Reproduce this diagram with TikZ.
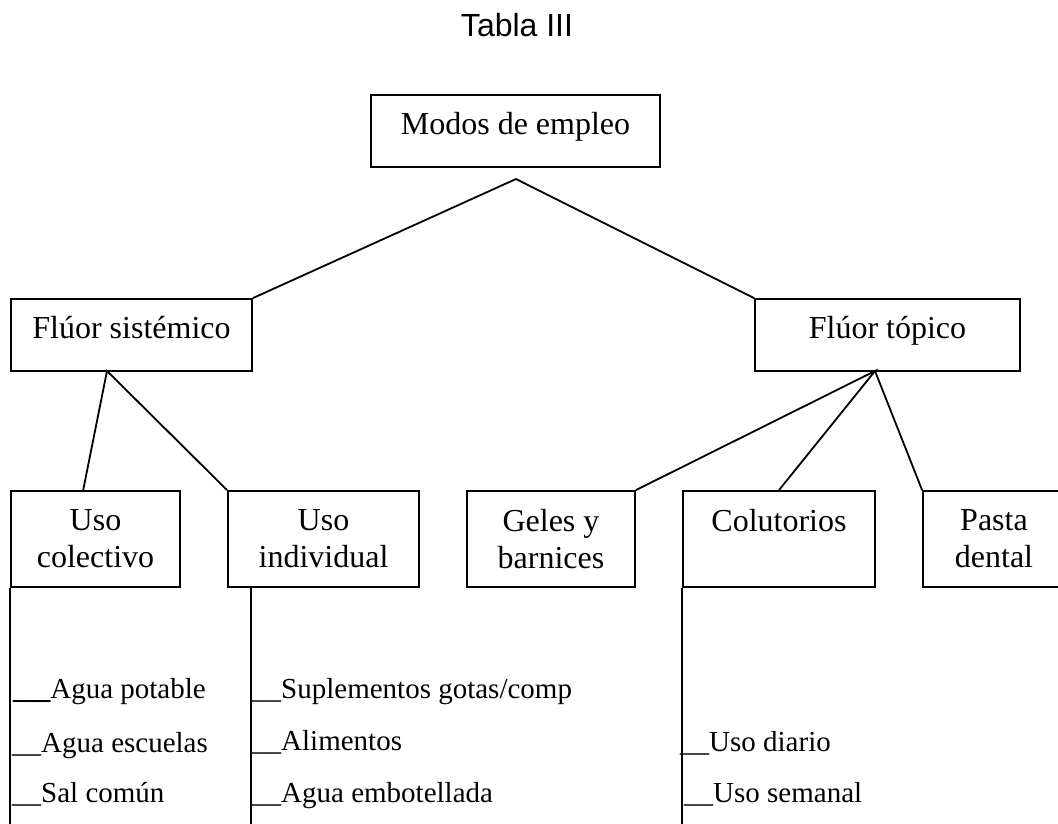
\documentclass[tikz,border=0pt]{standalone}
\usepackage{fontspec}
\setmainfont{Liberation Serif}
\newfontfamily\titlefont{Liberation Sans}
\begin{document}
\begin{tikzpicture}[x=1pt,y=-1pt,
  box/.style={draw,line width=1.8pt,inner sep=0pt,font=\fontsize{32}{37}\selectfont},
  onebox/.style={box,text height=22pt,text depth=16pt},
  twobox/.style={box,align=center},
  conn/.style={line width=1.8pt},
  item/.style={anchor=base west,inner sep=0pt,font=\fontsize{29}{34}\selectfont}]
\useasboundingbox (0,0) rectangle (1058,823);
% title
\node[anchor=base,inner sep=0pt,font=\titlefont\fontsize{32}{38}\selectfont] (title) at (517,36) {Tabla III};
% top level
\node[onebox,minimum width=289pt,minimum height=72pt] (modos) at (515.5,131) {Modos de empleo};
\node[onebox,minimum width=241pt,minimum height=72pt] (fs) at (131.5,335) {Flúor sistémico};
\node[onebox,minimum width=265pt,minimum height=72pt] (ft) at (887.5,335) {Flúor tópico};
% lower boxes
\node[twobox,minimum width=169pt,minimum height=96pt] (uc) at (95.5,539) {Uso\\colectivo};
\node[twobox,minimum width=191pt,minimum height=96pt] (ui) at (323.5,539) {Uso\\individual};
\node[twobox,minimum width=168pt,minimum height=96pt] (gb) at (551,539) {Geles y\\barnices};
\node[twobox,minimum width=192pt,minimum height=96pt] (co) at (779,539) {Colutorios\\\mbox{}};
\node[twobox,minimum width=142pt,minimum height=96pt] (pd) at (994,539) {Pasta\\dental};
% junction points
\coordinate (apex) at (516,179);
\coordinate (fsj) at (107,371);
\coordinate (ftj) at (875,371);
\coordinate (ucj) at (83,491);
% connectors
\draw[conn] (fs.north east) -- (apex) -- (ft.north west);
\draw[conn] (ucj) -- (fsj) -- (ui.north west);
\draw[conn] (gb.north east) -- (ftj) -- (co.north);
\draw[conn] (ftj) -- (pd.north west);
% list stems
\coordinate (ucend) at (uc.south west |- 0,830);
\coordinate (uiend) at (251,830);
\coordinate (coend) at (co.south west |- 0,830);
\draw[conn] (uc.south west) -- (ucend);
\draw[conn] (ui.south -| uiend) -- (uiend);
\draw[conn] (co.south west) -- (coend);
% list items
\node[item] (l1) at (13,698) {{\bfseries\_\_\hspace{-0.22em}\_}Agua potable};
\node[item] (l2) at (12,752) {\_\_Agua escuelas};
\node[item] (l3) at (12,802) {\_\_Sal común};
\node[item] (m1) at (252,698) {\_\_Suplementos gotas/comp};
\node[item] (m2) at (252,750) {\_\_Alimentos};
\node[item] (m3) at (252,802) {\_\_Agua embotellada};
\node[item] (r1) at (680,751) {\_\_Uso diario};
\node[item] (r2) at (684,802) {\_\_Uso semanal};
\end{tikzpicture}
\end{document}
